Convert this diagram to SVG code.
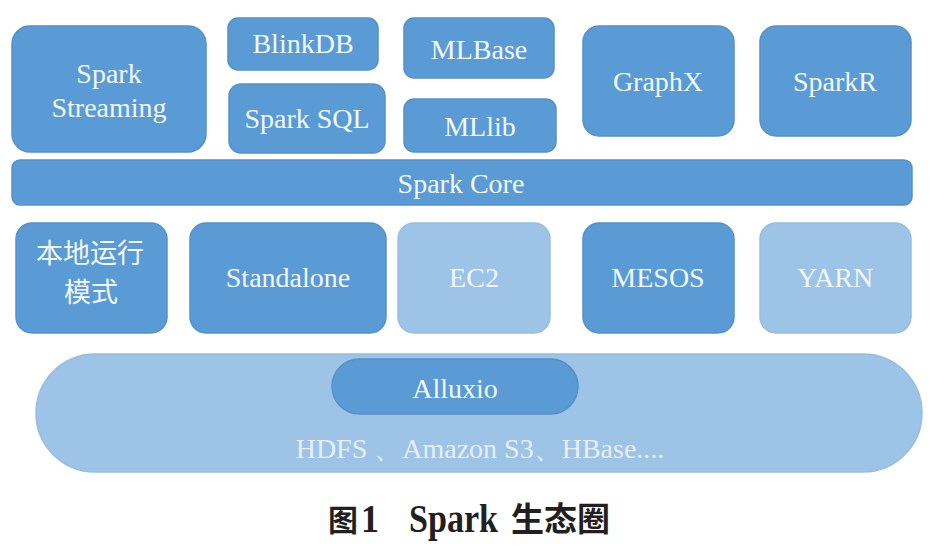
<svg xmlns="http://www.w3.org/2000/svg" width="931" height="547" viewBox="0 0 931 547">
<style>
.dk{fill:#5b9bd5;stroke:#5590cb;stroke-width:1.5}
.lt{fill:#9dc3e6;stroke:#97bde2;stroke-width:1.5}
.t{font-family:"Liberation Serif","Times New Roman",serif;font-size:28px;fill:#f2f7fc;text-anchor:middle}
.c{font-family:"Noto Sans CJK SC","Liberation Serif",sans-serif;font-size:27px;fill:#f2f7fc;text-anchor:middle}
.cap{font-family:"Liberation Serif","Noto Sans CJK SC",serif;font-weight:bold;fill:#231f20}
.capc{font-family:"Noto Sans CJK SC",sans-serif;font-weight:bold;fill:#231f20}
</style>
<rect width="931" height="547" fill="#ffffff"/>
<g id="connectors"/>
<g id="spark-streaming"><rect class="dk" x="12" y="26" width="194" height="126" rx="18"/><text class="t" x="109" y="83">Spark</text><text class="t" x="109" y="117">Streaming</text></g>
<g id="blinkdb"><rect class="dk" x="228" y="18" width="150" height="52" rx="10"/><text class="t" x="303" y="53">BlinkDB</text></g>
<g id="spark-sql"><rect class="dk" x="229" y="84" width="156" height="69" rx="12"/><text class="t" x="307" y="128">Spark SQL</text></g>
<g id="mlbase"><rect class="dk" x="404" y="18" width="150" height="60" rx="10"/><text class="t" x="479" y="59">MLBase</text></g>
<g id="mllib"><rect class="dk" x="404" y="99" width="152" height="53" rx="10"/><text class="t" x="480" y="136">MLlib</text></g>
<g id="graphx"><rect class="dk" x="583" y="26" width="151" height="110" rx="16"/><text class="t" x="658" y="91">GraphX</text></g>
<g id="sparkr"><rect class="dk" x="760" y="26" width="151" height="110" rx="16"/><text class="t" x="835" y="91">SparkR</text></g>
<g id="spark-core"><rect class="dk" x="12" y="160" width="900" height="45" rx="8"/><text class="t" x="461" y="193">Spark Core</text></g>
<g id="local-mode"><rect class="dk" x="16" y="223" width="151" height="110" rx="16"/><text class="c" x="90" y="263">本地运行</text><text class="c" x="91" y="302">模式</text></g>
<g id="standalone"><rect class="dk" x="190" y="223" width="196" height="110" rx="16"/><text class="t" x="288" y="287">Standalone</text></g>
<g id="ec2"><rect class="lt" x="398" y="223" width="152" height="110" rx="16"/><text class="t" x="474" y="287">EC2</text></g>
<g id="mesos"><rect class="dk" x="583" y="223" width="151" height="110" rx="16"/><text class="t" x="658" y="287">MESOS</text></g>
<g id="yarn"><rect class="lt" x="760" y="223" width="151" height="110" rx="16"/><text class="t" x="835" y="287">YARN</text></g>
<g id="storage"><rect class="lt" x="36" y="354" width="886" height="118" rx="59"/><text class="t" x="480" y="458" style="fill:#e6f0fa">HDFS 、Amazon S3、HBase....</text></g>
<g id="alluxio"><rect class="dk" x="332" y="359" width="246" height="55" rx="27.5"/><text class="t" x="455" y="398">Alluxio</text></g>
<g id="caption">
<text class="capc" x="328" y="531" font-size="30">图</text>
<text class="cap" x="361" y="532" font-size="40" textLength="18" lengthAdjust="spacingAndGlyphs">1</text>
<text class="cap" x="409" y="532" font-size="40" textLength="89" lengthAdjust="spacingAndGlyphs">Spark</text>
<text class="capc" x="511" y="531" font-size="33">生态圈</text>
</g>
</svg>
